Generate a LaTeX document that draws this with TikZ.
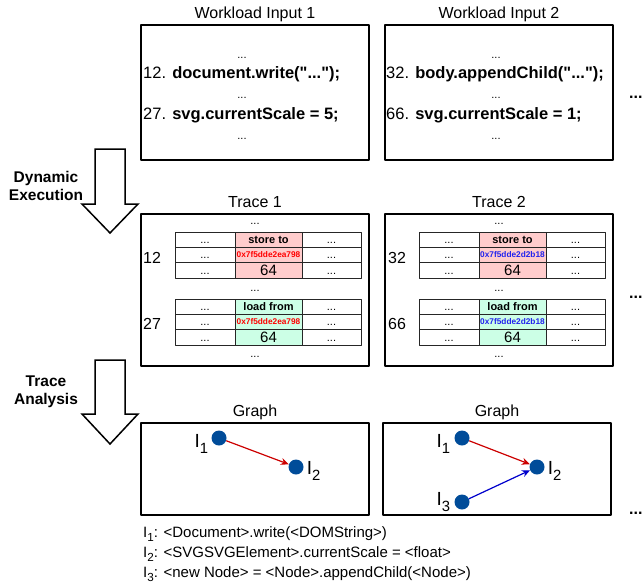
\documentclass[tikz,border=0pt]{standalone}
\usepackage{fontspec}
\setmainfont{Liberation Sans}
\usepackage{graphicx}
\usetikzlibrary{arrows.meta, calc, positioning}
\definecolor{storefill}{HTML}{FFCCCC}
\definecolor{loadfill}{HTML}{CCFFE6}
\definecolor{addrred}{HTML}{FF0000}
\definecolor{addrblue}{HTML}{2222EE}
\definecolor{nodeblue}{HTML}{004C99}
\definecolor{edgered}{HTML}{CC0000}
\definecolor{edgeblue}{HTML}{0000CC}
\newcommand{\fs}[1]{\fontsize{#1}{#1}\selectfont}
\newcommand{\isub}[1]{\raisebox{-0.28em}{\scalebox{0.78}{#1}}}
\newcommand{\qq}{\textquotedbl}

% one memory-access record: 3 rows x 3 columns, middle column shaded
% #1 name, #2 top y, #3 fill, #4 access kind, #5 address colour, #6 address
\newcommand{\accessrec}[6]{%
	\foreach \col/\cx/\cw in {l/205/60, r/331.5/59}{
		\foreach \row in {0,1,2}{
			\node[cell, minimum width=\cw] (#1\col\row) at (\cx,{#2+7.65+15.3*\row}) {\fs{11}...};
		}
	}
	\node[cell, fill=#3, minimum width=67, font=\fs{11}\bfseries] (#1m0) at (268.5,#2+7.65) {#4};
	\node[cell, fill=#3, minimum width=67, text height=6pt, font=\fs{8.3}\bfseries, text=#5] (#1m1) at (268.5,#2+22.95) {#6};
	\node[cell, fill=#3, minimum width=67, text height=10.7pt, font=\fs{15}] (#1m2) at (268.5,#2+38.25) {64};
}

\begin{document}
\begin{tikzpicture}[x=1pt, y=-1pt, line join=round,
	box/.style={draw, line width=1.6pt, inner sep=0pt, minimum width=228},
	ttl/.style={font=\fs{16}, inner sep=0pt, text depth=4pt},
	code/.style={font=\fs{16.5}, inner sep=0pt, anchor=base west},
	dots/.style={font=\fs{11}, inner sep=0pt, anchor=base},
	rowno/.style={font=\fs{16}, inner sep=0pt, text height=11.5pt, text depth=0pt},
	cell/.style={draw=black!85, line width=0.8pt, minimum height=15.3, inner sep=0pt, text height=8pt, text depth=0pt},
	gnode/.style={circle, fill=nodeblue, minimum size=15, inner sep=0pt},
	lbl/.style={font=\fs{19}, inner sep=0pt, text height=13.6pt, text depth=0pt},
	redge/.style={edgered, line width=1.2pt, -{Stealth[length=8pt,width=7pt]}},
	bedge/.style={edgeblue, line width=1.2pt, -{Stealth[length=8pt,width=7pt]}},
	bigarrow/.style={draw, line width=1.5pt, fill=white, line join=miter},
	steplbl/.style={font=\fontsize{15.5}{18}\selectfont\bfseries, align=center, inner sep=0pt},
	more/.style={font=\fs{16}\bfseries, inner sep=0pt, anchor=base west},
	legend/.style={font=\fs{15}, inner sep=0pt, anchor=base west}]
	
	\clip (0,0) rectangle (644,583);
	
	% ===== Left column: input 1, trace 1, graph 1 =====
	\begin{scope}
		\node[box, minimum height=135] (wl1) at (255,92.5) {};
		\node[ttl, above=1.5pt of wl1] (wl1t) {Workload Input 1};
		\node[dots] (wl1d0) at (242,59) {...};
		\node[code] (wl1c0) at (143,79) {12. \textbf{document.write(\qq...\qq);}};
		\node[dots] (wl1d1) at (242,99) {...};
		\node[code] (wl1c1) at (143,119) {27. \textbf{svg.currentScale = 5;}};
		\node[dots] (wl1d2) at (242,139) {...};
		
		\node[box, minimum height=152] (tr1) at (255,290) {};
		\node[ttl, above=1.5pt of tr1] (tr1t) {Trace 1};
		\node[dots] (tr1d0) at (255,224) {...};
		\node[rowno] (tr1n0) at (152,258) {12};
		\accessrec{tr1a}{232}{storefill}{store to}{addrred}{0x7f5dde2ea798}
		\node[dots] (tr1d1) at (255,291) {...};
		\node[rowno] (tr1n1) at (152,324) {27};
		\accessrec{tr1b}{299}{loadfill}{load from}{addrred}{0x7f5dde2ea798}
		\node[dots] (tr1d2) at (255,357) {...};
		
		\node[box, minimum height=92] (gr1) at (255,469) {};
		\node[ttl, above=1.5pt of gr1] (gr1t) {Graph};
		\node[gnode] (g1a) at (219,438) {};
		\node[gnode] (g1b) at (296,467) {};
		\node[lbl, left=3pt of g1a, yshift=-3pt] (g1al) {I\isub{1}};
		\node[lbl, right=3pt of g1b, yshift=-1pt] (g1bl) {I\isub{2}};
		\draw[redge] (g1a) -- (g1b);
	\end{scope}
	
	% ===== Right column: input 2, trace 2, graph 2 =====
	\begin{scope}[shift={(244,0)}]
		\node[box, minimum height=135] (wl2) at (255,92.5) {};
		\node[ttl, above=1.5pt of wl2] (wl2t) {Workload Input 2};
		\node[dots] (wl2d0) at (252,59) {...};
		\node[code] (wl2c0) at (142,79) {32. \textbf{body.appendChild(\qq...\qq);}};
		\node[dots] (wl2d1) at (252,99) {...};
		\node[code] (wl2c1) at (142,119) {66. \textbf{svg.currentScale = 1;}};
		\node[dots] (wl2d2) at (252,139) {...};
		
		\node[box, minimum height=152] (tr2) at (255,290) {};
		\node[ttl, above=1.5pt of tr2] (tr2t) {Trace 2};
		\node[dots] (tr2d0) at (255,224) {...};
		\node[rowno] (tr2n0) at (153,258) {32};
		\accessrec{tr2a}{232}{storefill}{store to}{addrblue}{0x7f5dde2d2b18}
		\node[dots] (tr2d1) at (255,291) {...};
		\node[rowno] (tr2n1) at (153,324) {66};
		\accessrec{tr2b}{299}{loadfill}{load from}{addrblue}{0x7f5dde2d2b18}
		\node[dots] (tr2d2) at (255,357) {...};
		
		\node[box, minimum height=92] (gr2) at (253,469) {};
		\node[ttl, above=1.5pt of gr2] (gr2t) {Graph};
		\node[gnode] (g2a) at (218,438) {};
		\node[gnode] (g2b) at (293,467) {};
		\node[gnode] (g2c) at (218,502) {};
		\node[lbl, left=4pt of g2a, yshift=-3pt] (g2al) {I\isub{1}};
		\node[lbl, right=3pt of g2b, yshift=-1pt] (g2bl) {I\isub{2}};
		\node[lbl, left=4pt of g2c, yshift=3pt] (g2cl) {I\isub{3}};
		\draw[redge] (g2a) -- (g2b);
		\draw[bedge] (g2c) -- (g2b);
	\end{scope}
	
	% more workloads to the right
	\node[more] (more0) at (629,99) {...};
	\node[more] (more1) at (629,298) {...};
	\node[more] (more2) at (629,514) {...};
	
	% ===== Left: processing steps =====
	\draw[bigarrow] (95,149) -- (125,149) -- (125,204) -- (138,204) -- (110,233) -- (82,204) -- (95,204) -- cycle;
	\node[steplbl] (dynlbl) at (46,186) {Dynamic\\Execution};
	\draw[bigarrow] (95,360) -- (125,360) -- (125,414) -- (138,414) -- (110,444) -- (82,414) -- (95,414) -- cycle;
	\node[steplbl] (analbl) at (46,392) {Trace\\Analysis};
	
	% ===== Legend =====
	\node[legend] (leg1) at (143,537) {I\isub{1}: <Document>.write(<DOMString>)};
	\node[legend] (leg2) at (143,557) {I\isub{2}: <SVGSVGElement>.currentScale = <float>};
	\node[legend] (leg3) at (143,577) {I\isub{3}: <new Node> = <Node>.appendChild(<Node>)};
	
\end{tikzpicture}
\end{document}
